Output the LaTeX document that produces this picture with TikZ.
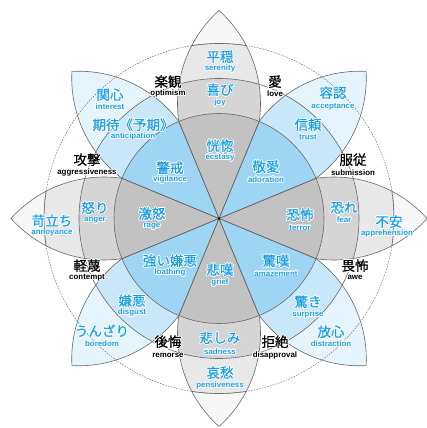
\documentclass[tikz,border=0pt]{standalone}
\usepackage{fontspec}
\usepackage[copies]{contour}
\contourlength{0.7pt}
\contournumber{16}
\setmainfont{Liberation Sans}
\newfontfamily\enfont{Liberation Sans}
\newfontfamily\jp[FakeBold=0.7]{Noto Sans CJK JP}
\newcommand\cw[1]{\contour{white}{#1}}
\definecolor{gA}{HTML}{C2C2C2}
\definecolor{gB}{HTML}{D5D5D5}
\definecolor{gC}{HTML}{E8E8E8}
\definecolor{gD}{HTML}{F7F7F7}
\definecolor{bA}{HTML}{9FD5F4}
\definecolor{bB}{HTML}{C8E7F9}
\definecolor{bC}{HTML}{E6F5FD}
\definecolor{txtblue}{HTML}{1A9FE3}
\definecolor{linegray}{HTML}{6A6A6A}
\tikzset{
  thinline/.style={draw=linegray, line width=0.6pt},
  dashline/.style={draw=linegray, line width=0.45pt, dash pattern=on 1.6pt off 1.2pt},
  jplab/.style={font=\jp\fontsize{13.5}{14}\selectfont, inner sep=0pt, text=txtblue},
  enlab/.style={font=\enfont\bfseries\fontsize{7.9}{9}\selectfont, inner sep=0pt, text=txtblue},
  jpdy/.style={jplab, text=black},
  endy/.style={enlab, text=black},
}
\newcommand\petaldo[1]{#1 (0,0) -- (-40.18,97) arc[start angle=188.28,end angle=131.92,radius=125pt] arc[start angle=48.08,end angle=-8.28,radius=125pt] -- cycle;}
% #1 rotation, #2 inner, #3 middle, #4 outer band, #5 tip, #6 draw r175 solid (1/0)
\newcommand\petalfill[6]{%
  \begin{scope}[rotate=#1]
    \petaldo{\fill[#5]}
    \begin{scope}
      \petaldo{\clip}
      \fill[#4] (0,0) circle[radius=175pt];
      \fill[#3] (0,0) circle[radius=140pt];
      \fill[#2] (0,0) circle[radius=105pt];
      \draw[thinline] (0,0) circle[radius=105pt];
      \ifnum#6=1 \draw[thinline] (0,0) circle[radius=175pt];\fi
    \end{scope}
  \end{scope}}
\begin{document}
\begin{tikzpicture}[x=1pt,y=1pt]
\useasboundingbox (-219,-209.5) rectangle (208,218.5);
\fill[white] (-219,-209.5) rectangle (208,218.5);
% petals: joy, trust, fear, surprise, sadness, disgust, anger, anticipation
\petalfill{0}{gA}{gB}{gC}{gD}{1}
\petalfill{-45}{bA}{bB}{bC}{bC}{0}
\petalfill{-90}{gA}{gB}{gC}{gD}{1}
\petalfill{-135}{bA}{bB}{bC}{bC}{0}
\petalfill{180}{gA}{gB}{gC}{gD}{1}
\petalfill{135}{bA}{bB}{bC}{bC}{0}
\petalfill{90}{gA}{gB}{gC}{gD}{1}
\petalfill{45}{bA}{bB}{bC}{bC}{0}
% rings
\draw[thinline] (0,0) circle[radius=140pt];
\draw[dashline] (0,0) circle[radius=175pt];
% petal outlines
\foreach \r in {0,-45,-90,-135,180,135,90,45}{
  \begin{scope}[rotate=\r]\petaldo{\draw[thinline]}\end{scope}
}
\fill[black] (0,0) circle[radius=1.3pt];
\node[coordinate] (C) at (0,0) {};
% ---- joy petal
\node[jplab] (j-serenity) at (1,161.5) {\cw{平穏}};
\node[enlab] (e-serenity) at (1,149.5) {\cw{serenity}};
\node[jplab] (j-joy) at (1,128.5) {\cw{喜び}};
\node[enlab] (e-joy) at (1,115.5) {\cw{joy}};
\node[jplab] (j-ecstasy) at (1,72.5) {\cw{恍惚}};
\node[enlab] (e-ecstasy) at (1,60.5) {\cw{ecstasy}};
% ---- trust petal
\node[jplab] (j-adoration) at (47,51.5) {\cw{敬愛}};
\node[enlab] (e-adoration) at (47,38.5) {\cw{adoration}};
\node[jplab] (j-trust) at (89,93.5) {\cw{信頼}};
\node[enlab] (e-trust) at (89,81.5) {\cw{trust}};
\node[jplab] (j-acceptance) at (114,125.5) {\cw{容認}};
\node[enlab] (e-acceptance) at (114,111.5) {\cw{acceptance}};
% ---- fear petal
\node[jplab] (j-terror) at (81,3.5) {\cw{恐怖}};
\node[enlab] (e-terror) at (81,-9.5) {\cw{terror}};
\node[jplab] (j-fear) at (125,10.5) {\cw{恐れ}};
\node[enlab] (e-fear) at (125,-1.5) {\cw{fear}};
\node[jplab] (j-apprehension) at (170,-3.5) {\cw{不安}};
\node[enlab] (e-apprehension) at (168,-15.5) {\cw{apprehension}};
% ---- surprise petal
\node[jplab] (j-amazement) at (57,-42.5) {\cw{驚嘆}};
\node[enlab] (e-amazement) at (57,-55.5) {\cw{amazement}};
\node[jplab] (j-surprise) at (89,-83.5) {\cw{驚き}};
\node[enlab] (e-surprise) at (89,-96.5) {\cw{surprise}};
\node[jplab] (j-distraction) at (112,-113.5) {\cw{放心}};
\node[enlab] (e-distraction) at (112,-125.5) {\cw{distraction}};
% ---- sadness petal
\node[jplab] (j-grief) at (1,-51.5) {\cw{悲嘆}};
\node[enlab] (e-grief) at (1,-64.5) {\cw{grief}};
\node[jplab] (j-sadness) at (1,-119.5) {\cw{悲しみ}};
\node[enlab] (e-sadness) at (1,-133.5) {\cw{sadness}};
\node[jplab] (j-pensiveness) at (1,-154.5) {\cw{哀愁}};
\node[enlab] (e-pensiveness) at (1,-167.5) {\cw{pensiveness}};
% ---- disgust petal
\node[jplab] (j-loathing) at (-49,-42.5) {\cw{強い嫌悪}};
\node[enlab] (e-loathing) at (-49,-54.5) {\cw{loathing}};
\node[jplab] (j-disgust) at (-87,-82.5) {\cw{嫌悪}};
\node[enlab] (e-disgust) at (-87,-94.5) {\cw{disgust}};
\node[jplab] (j-boredom) at (-117,-112.5) {\cw{うんざり}};
\node[enlab] (e-boredom) at (-117,-125.5) {\cw{boredom}};
% ---- anger petal
\node[jplab] (j-rage) at (-67,4.5) {\cw{激怒}};
\node[enlab] (e-rage) at (-67,-8.5) {\cw{rage}};
\node[jplab] (j-anger) at (-124,10.5) {\cw{怒り}};
\node[enlab] (e-anger) at (-124,-2.5) {\cw{anger}};
\node[jplab] (j-annoyance) at (-167,-2.5) {\cw{苛立ち}};
\node[enlab] (e-annoyance) at (-167,-15.5) {\cw{annoyance}};
% ---- anticipation petal
\node[jplab] (j-vigilance) at (-49,50.5) {\cw{警戒}};
\node[enlab] (e-vigilance) at (-49,38.5) {\cw{vigilance}};
\node[jplab] (j-anticipation) at (-86,93.5) {\cw{期待《予期》}};
\node[enlab] (e-anticipation) at (-86,81.5) {\cw{anticipation}};
\node[jplab] (j-interest) at (-109,123.5) {\cw{関心}};
\node[enlab] (e-interest) at (-109,111.5) {\cw{interest}};
% ---- dyads
\node[jpdy] (j-optimism) at (-51,136.5) {\cw{楽観}};
\node[endy] (e-optimism) at (-51,124.5) {\cw{optimism}};
\node[jpdy] (j-love) at (56,136.5) {\cw{愛}};
\node[endy] (e-love) at (56,124.5) {\cw{love}};
\node[jpdy] (j-submission) at (134,58.5) {\cw{服従}};
\node[endy] (e-submission) at (134,45.5) {\cw{submission}};
\node[jpdy] (j-awe) at (136,-47.5) {\cw{畏怖}};
\node[endy] (e-awe) at (136,-59.5) {\cw{awe}};
\node[jpdy] (j-disapproval) at (56,-123.5) {\cw{拒絶}};
\node[endy] (e-disapproval) at (56,-137.5) {\cw{disapproval}};
\node[jpdy] (j-remorse) at (-51,-123.5) {\cw{後悔}};
\node[endy] (e-remorse) at (-51,-137.5) {\cw{remorse}};
\node[jpdy] (j-contempt) at (-132,-47.5) {\cw{軽蔑}};
\node[endy] (e-contempt) at (-132,-59.5) {\cw{contempt}};
\node[jpdy] (j-aggressiveness) at (-132,58.5) {\cw{攻撃}};
\node[endy] (e-aggressiveness) at (-132,45.5) {\cw{aggressiveness}};
\end{tikzpicture}
\end{document}
